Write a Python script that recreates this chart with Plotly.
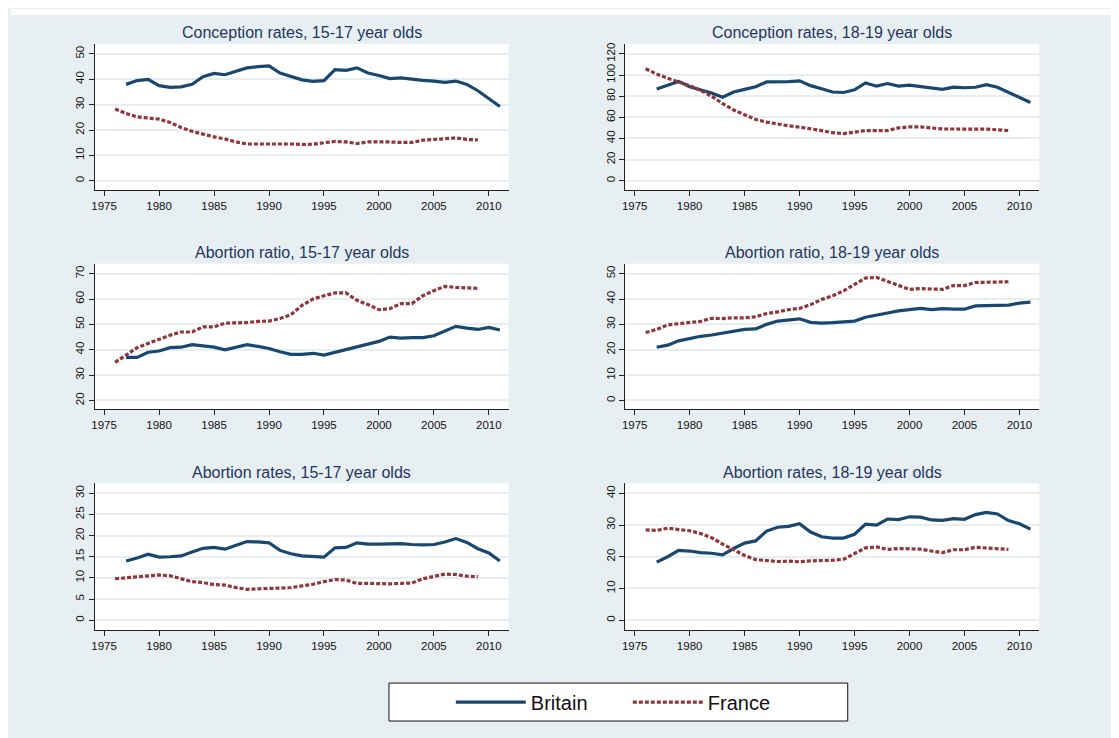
import plotly.graph_objects as go

# ---- data ----
YEARS_GB = list(range(1977, 2012))
YEARS_FR = list(range(1976, 2010))

conc_1517_gb = [38, 39.5, 40, 37.5, 36.8, 37, 38, 41, 42.3, 41.8, 43.2, 44.5, 45, 45.3, 42.5,
                41.2, 39.8, 39.2, 39.5, 43.8, 43.5, 44.5, 42.5, 41.5, 40.3, 40.6, 40, 39.6,
                39.3, 38.8, 39.3, 38, 35.5, 32.5, 29.3]
conc_1517_fr = [28.3, 26.5, 25.2, 24.8, 24.3, 23, 21, 19.5, 18.3, 17.3, 16.5, 15.3, 14.5, 14.5,
                14.7, 14.6, 14.5, 14.3, 14.4, 15, 15.5, 15.3, 14.7, 15.3, 15.4, 15.3, 15.1,
                15.1, 16, 16.3, 16.8, 16.9, 16.3, 16.1]

conc_1819_gb = [86.8, 90.5, 94, 89, 86, 83, 79, 84, 86.5, 89, 93.5, 93.5, 93.8, 94.5, 90, 87,
                84, 83.5, 86, 92.5, 89.5, 92, 89.5, 90.5, 89, 88, 86.5, 88.5, 88, 88.5, 91,
                88.5, 83.5, 79, 74]
conc_1819_fr = [106, 101, 97, 93.5, 90, 85.5, 80, 73, 67, 62.5, 58, 55.5, 53.5, 52, 50.8, 49.5,
                47.5, 45.5, 44.7, 46, 47.5, 47.5, 47.5, 50, 51, 51, 49.8, 49, 49, 49, 49, 48.8,
                48.2, 47.5]

ratio_1517_gb = [37, 37, 39, 39.5, 40.8, 41, 42, 41.5, 41, 40, 41, 42, 41.3, 40.5, 39.2, 38.2,
                 38.2, 38.6, 37.9, 39, 39.8, 41, 42.3, 43.3, 45, 44.6, 44.8, 44.8, 45.5, 47.5,
                 49.2, 48.5, 48, 48.8, 47.8]
ratio_1517_fr = [35, 37.8, 40.8, 42.5, 44.2, 45.7, 47, 47, 49, 49, 50.5, 50.5, 50.7, 51.2, 51.3,
                 52.3, 53.8, 57.5, 60, 61.3, 62.4, 62.4, 59.5, 57.8, 55.8, 56.2, 58.2, 58.2,
                 61.3, 63.3, 65, 64.6, 64.3, 64.2]

ratio_1819_gb = [21, 21.8, 23.5, 24.5, 25.3, 25.8, 26.5, 27, 28, 28.2, 30, 31.3, 31.6, 32.2,
                 30.8, 30.5, 30.7, 31, 31.3, 32.8, 33.5, 34.5, 35.3, 35.7, 36.3, 35.8, 36.2,
                 36, 36, 37.3, 37.5, 37.7, 37.6, 38.4, 38.8]
ratio_1819_fr = [26.8, 28, 29.8, 30.3, 30.8, 31.2, 32.4, 32.3, 32.6, 32.6, 33, 34.3, 34.9, 35.8,
                 36.3, 37.8, 39.8, 41.3, 43.2, 45.8, 48.3, 48.5, 47, 45.5, 43.8, 44.1, 44, 43.8,
                 45.3, 45.3, 46.5, 46.6, 46.7, 46.8]

abrate_1517_gb = [14, 14.7, 15.6, 14.9, 15, 15.2, 16.1, 17, 17.2, 16.8, 17.7, 18.6, 18.5, 18.3,
                  16.5, 15.7, 15.2, 15.1, 14.9, 17.1, 17.2, 18.3, 18, 18, 18.1, 18.1, 17.9,
                  17.8, 17.9, 18.5, 19.3, 18.4, 16.9, 15.9, 14]
abrate_1517_fr = [9.8, 10, 10.2, 10.4, 10.7, 10.5, 9.8, 9.1, 8.9, 8.4, 8.3, 7.7, 7.3, 7.4, 7.5,
                  7.6, 7.7, 8.1, 8.5, 9.1, 9.6, 9.5, 8.7, 8.7, 8.6, 8.6, 8.7, 8.8, 9.8, 10.3,
                  10.9, 10.8, 10.4, 10.3]

abrate_1819_gb = [18.3, 20, 22, 21.8, 21.3, 21.1, 20.6, 22.6, 24.3, 25, 28.1, 29.3, 29.6, 30.4,
                  27.8, 26.3, 25.9, 25.9, 27.1, 30.3, 30, 31.9, 31.7, 32.6, 32.5, 31.6, 31.5,
                  32, 31.8, 33.3, 34, 33.5, 31.4, 30.4, 28.7]
abrate_1819_fr = [28.5, 28.3, 29, 28.6, 28.2, 27.3, 26, 24, 22.2, 20.4, 19.1, 18.9, 18.5, 18.6,
                  18.4, 18.7, 18.7, 18.9, 19.2, 21.1, 22.8, 23.1, 22.3, 22.6, 22.5, 22.4, 21.8,
                  21.3, 22.2, 22.2, 23, 22.8, 22.6, 22.3]

TITLES = [
    "Conception rates, 15-17 year olds", "Conception rates, 18-19 year olds",
    "Abortion ratio, 15-17 year olds", "Abortion ratio, 18-19 year olds",
    "Abortion rates, 15-17 year olds", "Abortion rates, 18-19 year olds",
]
SERIES = [
    (conc_1517_gb, conc_1517_fr), (conc_1819_gb, conc_1819_fr),
    (ratio_1517_gb, ratio_1517_fr), (ratio_1819_gb, ratio_1819_fr),
    (abrate_1517_gb, abrate_1517_fr), (abrate_1819_gb, abrate_1819_fr),
]
Y_TICKS = [
    [0, 10, 20, 30, 40, 50], [0, 20, 40, 60, 80, 100, 120],
    [20, 30, 40, 50, 60, 70], [0, 10, 20, 30, 40, 50],
    [0, 5, 10, 15, 20, 25, 30], [0, 10, 20, 30, 40],
]
X_TICKS = [1975, 1980, 1985, 1990, 1995, 2000, 2005, 2010]

# ---- style / layout ----
# the page body adds an 8px margin, so the figure is 8px smaller and all
# page-pixel positions below are shifted by OFF
OFF = 8
W, H = 1119 - OFF, 738 - OFF
BG = "#e8eff2"
GRID = "#e6eef1"
GB_COLOR = "#1a476f"
FR_COLOR = "#90353b"
TITLE_COLOR = "#24365e"
FONT = "Liberation Sans, Arial, sans-serif"

COL_PX = [(92, 507), (624, 1039)]
ROW_PX = [(43, 189), (263, 409), (483, 630)]
# pad beyond first/last tick, in axis units (matches the Stata plot region)
Y_PAD = [(3.54, 3.94), (8.5, 9.45), (3.54, 3.94), (3.54, 3.94), (2.36, 2.36), (3.15, 3.15)]
X_RANGE = [1974.15, 2011.8]


def px_x(p):
    return (p - OFF) / W


def px_y(p):
    return 1 - (p - OFF) / H


fig = go.Figure()
annotations = []

for i, (title, (gb, fr), yt) in enumerate(zip(TITLES, SERIES, Y_TICKS)):
    row, col = divmod(i, 2)
    n = i + 1
    xa = "x" if n == 1 else f"x{n}"
    ya = "y" if n == 1 else f"y{n}"

    fig.add_trace(go.Scatter(
        x=YEARS_GB, y=gb, mode="lines", name="Britain", legendgroup="gb",
        showlegend=(i == 0), xaxis=xa, yaxis=ya,
        line=dict(color=GB_COLOR, width=3.2),
    ))
    fig.add_trace(go.Scatter(
        x=YEARS_FR, y=fr, mode="lines", name="France", legendgroup="fr",
        showlegend=(i == 0), xaxis=xa, yaxis=ya,
        line=dict(color=FR_COLOR, width=3.2, dash="4px,2px"),
    ))

    x0, x1 = COL_PX[col]
    top, bot = ROW_PX[row]
    lo_pad, hi_pad = Y_PAD[i]
    axis_common = dict(
        showline=True, linecolor="#222222", linewidth=1,
        ticks="outside", ticklen=5, tickcolor="#222222",
        tickfont=dict(family=FONT, size=11.5, color="#111111"),
        zeroline=False,
    )
    fig.update_layout({
        f"xaxis{'' if n == 1 else n}": dict(
            domain=[px_x(x0), px_x(x1)], anchor=ya, range=X_RANGE,
            tickvals=X_TICKS, showgrid=False, **axis_common,
        ),
        f"yaxis{'' if n == 1 else n}": dict(
            domain=[px_y(bot), px_y(top)], anchor=xa,
            range=[yt[0] - lo_pad, yt[-1] + hi_pad], tickvals=yt, tickangle=-90,
            showgrid=True, gridcolor=GRID, gridwidth=1.5, **axis_common,
        ),
    })
    annotations.append(dict(
        text=title, xref="paper", yref="paper", x=px_x((x0 + x1) / 2), y=px_y(top - 11),
        xanchor="center", yanchor="middle", showarrow=False,
        font=dict(family=FONT, size=16, color=TITLE_COLOR),
    ))

shapes = [
    # white strip above the graph region
    dict(type="rect", xref="paper", yref="paper", x0=0, x1=1, y0=px_y(14), y1=1,
         fillcolor="white", line=dict(width=0), layer="below"),
    # legend box
    dict(type="rect", xref="paper", yref="paper", x0=px_x(387), x1=px_x(847),
         y0=px_y(721), y1=px_y(683), fillcolor="white",
         line=dict(color="#111111", width=1), layer="below"),
]

fig.update_layout(
    width=W, height=H,
    margin=dict(l=0, r=0, t=0, b=0),
    paper_bgcolor=BG, plot_bgcolor="white",
    font=dict(family=FONT, color="#111111"),
    annotations=annotations,
    shapes=shapes,
    showlegend=True,
    legend=dict(
        orientation="h", x=px_x(449), xanchor="left", y=px_y(702), yanchor="middle",
        bgcolor="rgba(0,0,0,0)", borderwidth=0, itemwidth=70,
        entrywidth=92, entrywidthmode="pixels",
        font=dict(family=FONT, size=20, color="#111111"),
    ),
)

fig.write_html("out.html")
